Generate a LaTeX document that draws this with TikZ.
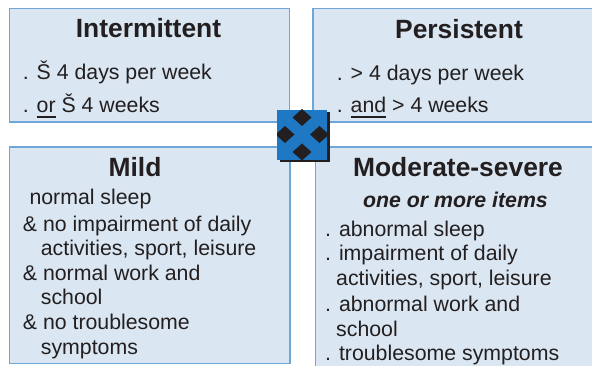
\documentclass[tikz,border=0pt]{standalone}
\usepackage{fontspec}
\setmainfont{Liberation Sans}
\definecolor{boxfill}{HTML}{DAE6F1}
\definecolor{boxline}{HTML}{6FA6DA}
\definecolor{iconblue}{HTML}{1F78C4}
\definecolor{ink}{HTML}{231F20}
\newcommand\ulword[1]{\sbox0{#1}\rlap{\rule[-5.5pt]{\wd0}{2.4pt}}\usebox0}
\tikzset{
  panel/.style={fill=boxfill,draw=boxline,line width=1.5pt},
  heading/.style={anchor=base,inner sep=0pt,text=ink,font=\fontsize{26.4}{30}\selectfont\bfseries},
  subhead/.style={anchor=base,inner sep=0pt,text=ink,font=\fontsize{21.3}{25}\selectfont\bfseries\itshape},
  item/.style={anchor=base west,inner sep=0pt,text=ink,font=\fontsize{21.3}{25}\selectfont},
}
\begin{document}
\begin{tikzpicture}[x=1pt,y=-1pt]
\useasboundingbox (0,0) rectangle (592,366);
\clip (0,0) rectangle (592,366);
\fill[white] (0,0) rectangle (592,366);

% four panels
\draw[panel] (9.5,8.5) rectangle (289.5,122);
\draw[panel] (313,8.5) rectangle (610,122);
\draw[panel] (9.5,147) rectangle (290,363.5);
\draw[panel] (315.5,147) rectangle (610,390);

% Intermittent
\node[heading] (tlh) at (148.5,38) {Intermittent};
\node[item] (tl1) at (22.7,80) {. Š 4 days per week};
\node[item] (tl2) at (22.7,112.5) {. \ulword{or} Š 4 weeks};

% Persistent
\node[heading] (trh) at (459,39) {Persistent};
\node[item] (tr1) at (336.7,80.5) {. > 4 days per week};
\node[item] (tr2) at (336.7,113) {. \ulword{and} > 4 weeks};

% Mild
\node[heading] (blh) at (135,177) {Mild};
\node[item] (bl1) at (29.3,204.5) {normal sleep};
\node[item] (bl2) at (22.7,232) {\& no impairment of daily};
\node[item] (bl3) at (40.7,256) {activities, sport, leisure};
\node[item] (bl4) at (22.7,280.5) {\& normal work and};
\node[item] (bl5) at (40.7,305) {school};
\node[item] (bl6) at (22.7,330) {\& no troublesome};
\node[item] (bl7) at (40.7,354) {symptoms};

% Moderate-severe
\node[heading] (brh) at (458,177) {Moderate-severe};
\node[subhead] (brs) at (455.5,208) {one or more items};
\node[item] (br1) at (325,236.5) {. abnormal sleep};
\node[item] (br2) at (325,261) {. impairment of daily};
\node[item] (br3) at (336,286) {activities, sport, leisure};
\node[item] (br4) at (325,311.5) {. abnormal work and};
\node[item] (br5) at (336,336.5) {school};
\node[item] (br6) at (325,360) {. troublesome symptoms};

% centre badge
\fill[ink] (279.5,112.5) rectangle (329.5,162.5);
\fill[iconblue] (277,110) rectangle (327,160);
\begin{scope}
  \clip (277,110) rectangle (327,160);
  \foreach \cx/\cy in {302/117.5, 285/134.5, 319.5/134.5, 302/152}
    \fill[ink] (\cx-9.5,\cy) -- (\cx,\cy-8.5) -- (\cx+9.5,\cy) -- (\cx,\cy+8.5) -- cycle;
\end{scope}
\end{tikzpicture}
\end{document}
